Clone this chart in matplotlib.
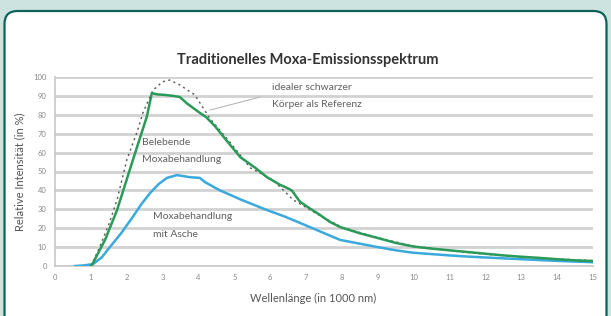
import matplotlib.pyplot as plt
from matplotlib.patches import FancyBboxPatch

# wavelength in 1000 nm, relative intensity in %
green_x = [1.0, 1.06, 1.4, 1.73, 2.17, 2.56, 2.70, 2.85, 3.07, 3.30, 3.48, 3.68, 4.04, 4.20,
           4.46, 4.8, 5.16, 5.58, 5.91, 6.27, 6.47, 6.6, 6.83, 7.1, 7.39, 7.65, 7.95, 8.5,
           9.0, 9.5, 10.0, 10.5, 11.0, 11.5, 12.0, 12.5, 13.0, 13.5, 14.0, 14.5, 15.0]
green_y = [0.0, 1.6, 14, 29.6, 56, 79, 91.5, 90.8, 90.5, 90.0, 89.4, 86, 81, 79,
           74, 66, 57.7, 52, 47, 43, 41.3, 40, 34, 30.5, 27, 23.5, 20.6, 17.3,
           14.8, 12.2, 10.3, 9.2, 8.3, 7.4, 6.5, 5.6, 4.9, 4.3, 3.6, 3.0, 2.6]

blue_x = [0.56, 0.8, 1.06, 1.3, 1.53, 1.85, 2.17, 2.4, 2.65, 2.9, 3.12, 3.40, 3.76, 4.04,
          4.18, 4.6, 5.2, 5.91, 6.4, 6.83, 7.4, 7.95, 8.5, 9.0, 9.5, 10.0, 10.5, 11.0,
          11.5, 12.0, 13.0, 14.0, 15.0]
blue_y = [0.0, 0.3, 1.0, 4.5, 10, 17.5, 26, 32.5, 38.6, 43.5, 46.6, 48.1, 47, 46.6,
          44.4, 40, 35, 29.6, 26.2, 22.8, 18.2, 13.8, 11.8, 10, 8.3, 7.0, 6.3, 5.6,
          5.0, 4.5, 3.6, 2.7, 2.0]

ref_x = [1.0, 1.2, 1.5, 1.73, 2.0, 2.29, 2.45, 2.73, 3.0, 3.2, 3.48, 3.9, 4.32, 4.9,
         5.44, 6.08, 6.64, 7.4, 8.0, 9.0, 10.0, 11.0, 12.0, 13.0, 14.0, 15.0]
ref_y = [0.0, 8, 22, 35, 56, 71, 81, 93, 97.5, 98.4, 95.8, 90.5, 78, 65,
         52, 45.5, 35, 26.5, 20.5, 15, 10.5, 8.2, 6.2, 4.8, 3.7, 2.9]

plt.rcParams['font.family'] = ['Lato', 'DejaVu Sans']

fig = plt.figure(figsize=(6.11, 3.16), dpi=100, facecolor='#cde3df')

box = FancyBboxPatch((4.5, -30), 602, 335, boxstyle='round,pad=0,rounding_size=13',
                     transform=None, facecolor='white', edgecolor='#0e6358', linewidth=1.6,
                     zorder=-5)
fig.patches.append(box)

ax = fig.add_axes([55/611, 50/316, 538/611, 189/316])
ax.set_facecolor('none')

ax.plot(ref_x, ref_y, color='#555555', lw=1.0, linestyle=(0, (1.5, 2.5)), zorder=3)
ax.plot(blue_x, blue_y, color='#3aa9dc', lw=1.8, zorder=4)
ax.plot(green_x, green_y, color='#2a9a58', lw=1.8, zorder=5)

ax.set_xlim(0, 15)
ax.set_ylim(0, 100)
ax.set_xticks(range(0, 16))
ax.set_yticks(range(0, 101, 10))
ax.tick_params(labelsize=5.5, colors='#888888', length=0, pad=6)
ax.grid(axis='y', color='#d2d2d2', lw=2)
ax.set_axisbelow(True)
for s in ['top', 'right']:
    ax.spines[s].set_visible(False)
for s in ['left', 'bottom']:
    ax.spines[s].set_color('#c8c8c8')
    ax.spines[s].set_linewidth(1.2)

txt = '#606060'
fs = 7.5
ax.text(6.05, 94.7, 'idealer schwarzer', fontsize=fs, color=txt, va='center')
ax.text(6.05, 85.7, 'Körper als Referenz', fontsize=fs, color=txt, va='center')
ax.plot([5.72, 4.32], [89.4, 82.5], color='#b0b0b0', lw=0.7, zorder=2)
ax.text(2.43, 65.6, 'Belebende', fontsize=fs, color=txt, va='center')
ax.text(2.43, 56.5, 'Moxabehandlung', fontsize=fs, color=txt, va='center')
ax.text(2.73, 26, 'Moxabehandlung', fontsize=fs, color=txt, va='center')
ax.text(2.73, 16.8, 'mit Asche', fontsize=fs, color=txt, va='center')

fig.text(308/611, 1 - 60/316, 'Traditionelles Moxa-Emissionsspektrum', fontsize=10.5,
         fontweight='bold', color='#333333', ha='center', va='center')
fig.text(313/611, 1 - 298/316, 'Wellenlänge (in 1000 nm)', fontsize=8, color='#555555',
         ha='center', va='center')
fig.text(20/611, 1 - 172/316, 'Relative Intensität (in %)', fontsize=8, color='#555555',
         ha='center', va='center', rotation=90)

fig.savefig('out.png', dpi=100, facecolor=fig.get_facecolor())
